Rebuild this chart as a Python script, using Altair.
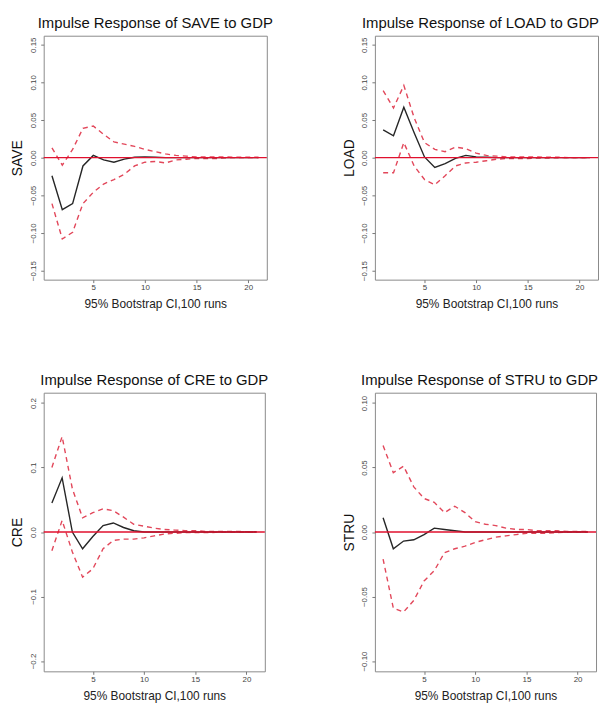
import altair as alt
import pandas as pd

steps = list(range(1, 22))

save_irf = [-0.024, -0.069, -0.061, -0.011, 0.003, -0.003, -0.006, -0.002, 0.0005, 0.001, 0.0005,
            0.0, 0.0, 0.0, 0.0, 0.0, 0.0, 0.0, 0.0, 0.0, 0.0]
save_hi = [0.013, -0.010, 0.011, 0.039, 0.042, 0.031, 0.021, 0.018, 0.015, 0.011, 0.008,
           0.005, 0.003, 0.002, 0.001, 0.001, 0.001, 0.001, 0.0005, 0.0005, 0.0005]
save_lo = [-0.061, -0.108, -0.099, -0.061, -0.046, -0.035, -0.029, -0.022, -0.011, -0.006, -0.005,
           -0.007, -0.003, -0.002, -0.001, -0.001, -0.001, 0.0, 0.0, 0.0, 0.0]

load_irf = [0.037, 0.029, 0.067, 0.033, 0.001, -0.013, -0.008, -0.001, 0.003, 0.001, 0.0005,
            0.0, 0.0, 0.0, 0.0, 0.0, 0.0, 0.0, 0.0, 0.0, 0.0]
load_hi = [0.089, 0.066, 0.096, 0.053, 0.020, 0.011, 0.008, 0.014, 0.012, 0.006, 0.003,
           0.002, 0.001, 0.001, 0.001, 0.001, 0.0005, 0.0005, 0.0, 0.0, 0.0]
load_lo = [-0.020, -0.020, 0.020, -0.011, -0.029, -0.036, -0.024, -0.011, -0.007, -0.006, -0.004,
           -0.002, -0.001, -0.001, -0.001, -0.0005, -0.0005, 0.0, 0.0, 0.0, 0.0]

cre_irf = [0.045, 0.084, 0.000, -0.026, -0.007, 0.010, 0.014, 0.007, 0.002, 0.0, 0.0,
           0.0, 0.0, 0.0, 0.0, 0.0, 0.0, 0.0, 0.0, 0.0, 0.0]
cre_hi = [0.100, 0.148, 0.067, 0.022, 0.030, 0.036, 0.033, 0.023, 0.012, 0.009, 0.006,
          0.004, 0.003, 0.002, 0.002, 0.001, 0.001, 0.001, 0.001, 0.0005, 0.0005]
cre_lo = [-0.029, 0.018, -0.031, -0.070, -0.057, -0.026, -0.013, -0.011, -0.011, -0.009, -0.006,
          -0.003, -0.002, -0.001, -0.001, -0.001, -0.0005, 0.0, 0.0, 0.0, 0.0]

stru_irf = [0.011, -0.013, -0.007, -0.006, -0.002, 0.003, 0.002, 0.001, 0.0, 0.0, 0.0,
            0.0, 0.0, 0.0, 0.0, 0.0, 0.0, 0.0, 0.0, 0.0, 0.0]
stru_hi = [0.067, 0.046, 0.051, 0.035, 0.026, 0.023, 0.015, 0.020, 0.015, 0.008, 0.006,
           0.005, 0.003, 0.002, 0.002, 0.001, 0.001, 0.001, 0.0005, 0.0005, 0.0005]
stru_lo = [-0.021, -0.059, -0.062, -0.053, -0.038, -0.030, -0.016, -0.013, -0.011, -0.008, -0.006,
           -0.004, -0.003, -0.002, -0.001, -0.001, -0.001, -0.0005, 0.0, 0.0, 0.0]

x_ticks = [5, 10, 15, 20]
ticks_015 = [-0.15, -0.10, -0.05, 0.0, 0.05, 0.10, 0.15]
ticks_02 = [-0.2, -0.1, 0.0, 0.1, 0.2]
ticks_010 = [-0.10, -0.05, 0.0, 0.05, 0.10]

FONT = "Liberation Sans"


def panel(name, irf, lo, hi, ydom, yticks, fmt, w, h, title_dx=0):
    df = pd.DataFrame({
        "step": steps * 3,
        "value": irf + lo + hi,
        "series": ["irf"] * 21 + ["lower"] * 21 + ["upper"] * 21,
    })
    x = alt.X("step:Q",
              scale=alt.Scale(domain=[0.2, 21.8], nice=False, zero=False),
              axis=alt.Axis(values=x_ticks, title="95% Bootstrap CI,100 runs",
                            titleFontSize=12, titleFontWeight="normal", titleColor="#222",
                            titlePadding=7, labelPadding=1))
    y = alt.Y("value:Q",
              scale=alt.Scale(domain=ydom, nice=False, zero=False),
              axis=alt.Axis(values=yticks, format=fmt, title=name, labelAngle=270,
                            titleFontSize=14, titleFontWeight="normal", titleColor="#111",
                            titlePadding=5, labelPadding=3))
    base = alt.Chart(df)
    bands = base.transform_filter(alt.datum.series != "irf").mark_line(
        color="#e2475a", strokeDash=[5, 4], strokeWidth=1.4
    ).encode(x=x, y=y, detail="series:N")
    line = base.transform_filter(alt.datum.series == "irf").mark_line(
        color="#262626", strokeWidth=1.4
    ).encode(x=x, y=y)
    zero = alt.Chart(pd.DataFrame({"z": [0.0]})).mark_rule(
        color="#e0102e", strokeWidth=1.3
    ).encode(y=alt.datum(0))
    return alt.layer(bands, line, zero).properties(
        width=w, height=h,
        title=alt.TitleParams(f"Impulse Response of {name} to GDP", fontSize=15,
                              fontWeight="normal", font=FONT, color="#111", offset=5,
                              anchor="middle", dx=title_dx),
    )


p1 = panel("SAVE", save_irf, save_lo, save_hi, [-0.162, 0.162], ticks_015, ".2f", 225, 246)
p2 = panel("LOAD", load_irf, load_lo, load_hi, [-0.162, 0.162], ticks_015, ".2f", 225, 246, -6)
p3 = panel("CRE", cre_irf, cre_lo, cre_hi, [-0.216, 0.216], ticks_02, ".1f", 223, 281)
p4 = panel("STRU", stru_irf, stru_lo, stru_hi, [-0.108, 0.108], ticks_010, ".2f", 223, 281, -6)

chart = alt.concat(p1, p2, p3, p4, columns=2, spacing={"row": 114, "column": 109},
                   bounds="flush").properties(
    padding={"left": 2, "top": 4, "right": 0, "bottom": 0}
).configure_view(
    stroke="#8a8a8a", strokeWidth=1
).configure_axis(
    domain=False, grid=False, tickColor="#777", tickSize=3,
    labelColor="#444", labelFontSize=8, labelFont=FONT, titleFont=FONT,
)

chart.save("out.html", embed_options={"renderer": "svg", "actions": False})
